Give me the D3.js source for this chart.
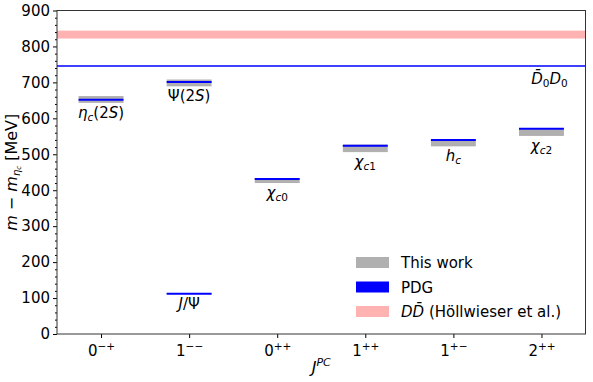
<!DOCTYPE html>
<html><head><meta charset="utf-8">
<script src="https://cdn.jsdelivr.net/npm/d3@7"></script>
<style>
body{margin:0;background:#fff;}
text{font-family:"DejaVu Sans",sans-serif;}
</style></head>
<body><svg id="c" width="593" height="382"></svg>
<script>
// ---- data ----
const categories = ["0", "1", "0", "1", "1", "2"];
const parities = ["\u2212+", "\u2212\u2212", "++", "++", "+\u2212", "++"];
const stateNames = ["eta2S", "psi2S", "jpsi", "chic0", "chic1", "hc", "chic2"];
const stateCategory = [0, 1, 1, 2, 3, 4, 5];
const thisWorkLow = [643, 689, 111, 420, 506, 522, 551];
const thisWorkHigh = [662, 708, 114, 434, 527, 541, 570];
const pdgValues = [652, 701, 112, 431, 524, 540, 571];
const thresholdD0D0 = 745.8;
const hollwieserBand = [822, 844];
const yTicks = [0, 100, 200, 300, 400, 500, 600, 700, 800, 900];

const svg = d3.select("#c");
const L = 57, R = 585.5, T = 10.5, B = 334;
const x = d3.scaleLinear().domain([-0.5, 5.5]).range([L, R]);
const y = d3.scaleLinear().domain([0, 900]).range([B, T]);
const halfW = 0.255;

// Höllwieser band
svg.append("rect").attr("x", L).attr("width", R - L)
  .attr("y", y(hollwieserBand[1])).attr("height", y(hollwieserBand[0]) - y(hollwieserBand[1]))
  .attr("fill", "#ffb2b2");
// threshold
svg.append("line").attr("x1", L).attr("x2", R).attr("y1", y(thresholdD0D0)).attr("y2", y(thresholdD0D0))
  .attr("stroke", "#0000ff").attr("stroke-width", 1.5);

// gray bars
const idx = d3.range(stateNames.length);
svg.selectAll("rect.tw").data(idx).enter().append("rect")
  .attr("x", i => x(stateCategory[i] - halfW))
  .attr("width", i => x(stateCategory[i] + halfW) - x(stateCategory[i] - halfW))
  .attr("y", i => y(thisWorkHigh[i]))
  .attr("height", i => y(thisWorkLow[i]) - y(thisWorkHigh[i]))
  .attr("fill", "#b0b0b0");
// PDG lines
svg.selectAll("line.pdg").data(idx).enter().append("line")
  .attr("x1", i => x(stateCategory[i] - halfW))
  .attr("x2", i => x(stateCategory[i] + halfW))
  .attr("y1", i => y(pdgValues[i])).attr("y2", i => y(pdgValues[i]))
  .attr("stroke", "#0000ff").attr("stroke-width", 2);

// state labels
function lab(i, build) {
  const t = svg.append("text")
    .attr("x", x(stateCategory[i]))
    .attr("y", y(thisWorkLow[i]) + 15)
    .attr("text-anchor", "middle").attr("font-size", 15).attr("fill", "#000");
  build(t);
}
lab(0, t => { t.append("tspan").attr("font-style", "italic").text("η");
  t.append("tspan").attr("font-style", "italic").attr("font-size", 10.5).attr("dy", 3).text("c");
  t.append("tspan").attr("dy", -3).text("(2");
  t.append("tspan").attr("font-style", "italic").text("S");
  t.append("tspan").text(")"); });
lab(1, t => { t.append("tspan").text("Ψ(2");
  t.append("tspan").attr("font-style", "italic").text("S");
  t.append("tspan").text(")"); });
lab(2, t => { t.append("tspan").attr("font-style", "italic").text("J");
  t.append("tspan").text("/Ψ"); });
function chi(i, sub) {
  lab(i, t => { t.append("tspan").attr("font-style", "italic").text("χ");
    t.append("tspan").attr("font-style", "italic").attr("font-size", 10.5).attr("dy", 3).text("c");
    t.append("tspan").attr("font-size", 10.5).text(sub); });
}
chi(3, "0"); chi(4, "1");
lab(5, t => { t.append("tspan").attr("font-style", "italic").text("h");
  t.append("tspan").attr("font-style", "italic").attr("font-size", 10.5).attr("dy", 3).text("c"); });
chi(6, "2");

// D0bar D0 label
{
  const t = svg.append("text").attr("x", x(5) + 8).attr("y", y(thresholdD0D0) + 18)
    .attr("text-anchor", "middle").attr("font-size", 15);
  t.append("tspan").attr("font-style", "italic").text("D\u0304");
  t.append("tspan").attr("font-size", 10.5).attr("dy", 3).text("0");
  t.append("tspan").attr("font-style", "italic").attr("dy", -3).text("D");
  t.append("tspan").attr("font-size", 10.5).attr("dy", 3).text("0");
}

// axes
const yAxis = d3.axisLeft(y).tickValues(yTicks).tickSize(4).tickPadding(3);
const gy = svg.append("g").attr("transform", `translate(${L},0)`).call(yAxis);
gy.selectAll("text").attr("font-size", 15).attr("font-family", "DejaVu Sans").attr("fill", "#000");
gy.select(".domain").remove();
const minor = d3.range(0, 901, 20).filter(v => v % 100 !== 0);
svg.append("g").attr("transform", `translate(${L},0)`)
  .call(d3.axisLeft(y).tickValues(minor).tickSize(2).tickFormat(""))
  .select(".domain").remove();

const xAxis = d3.axisBottom(x).tickValues(d3.range(6)).tickSize(4).tickPadding(3).tickFormat("");
const gx = svg.append("g").attr("transform", `translate(0,${B})`).call(xAxis);
gx.select(".domain").remove();
gx.selectAll(".tick").each(function(d) {
  const t = d3.select(this).append("text").attr("y", 22).attr("text-anchor", "middle")
    .attr("font-size", 15).attr("fill", "#000").attr("font-family", "DejaVu Sans");
  t.append("tspan").text(categories[d]);
  t.append("tspan").attr("font-size", 10.5).attr("dy", -6).text(parities[d]);
});

// frame
svg.append("rect").attr("x", L).attr("y", T).attr("width", R - L).attr("height", B - T)
  .attr("fill", "none").attr("stroke", "#333").attr("stroke-width", 1);

// axis titles
{
  const t = svg.append("text").attr("x", (L + R) / 2).attr("y", 373).attr("text-anchor", "middle").attr("font-size", 16);
  t.append("tspan").attr("font-style", "italic").text("J");
  t.append("tspan").attr("font-style", "italic").attr("font-size", 11).attr("dy", -7).text("PC");
}
{
  const t = svg.append("text").attr("transform", `translate(17,${(T + B) / 2}) rotate(-90)`)
    .attr("text-anchor", "middle").attr("font-size", 16);
  t.append("tspan").attr("font-style", "italic").text("m");
  t.append("tspan").text(" \u2212 ");
  t.append("tspan").attr("font-style", "italic").text("m");
  t.append("tspan").attr("font-style", "italic").attr("font-size", 10).attr("dy", 2.5).text("η");
  t.append("tspan").attr("font-style", "italic").attr("font-size", 7).attr("dy", 1.5).text("c");
  t.append("tspan").attr("dy", -4).text(" [MeV]");
}

// legend
const legItems = [
  {c: "#b0b0b0", label: "This work"},
  {c: "#0000ff", label: "PDG"},
  {c: "#ffb2b2", label: null}
];
legItems.forEach((d, i) => {
  const yy = 257 + i * 24.5;
  svg.append("rect").attr("x", 356).attr("y", yy).attr("width", 33).attr("height", 11).attr("fill", d.c);
  const t = svg.append("text").attr("x", 401).attr("y", yy + 11).attr("font-size", 15);
  if (d.label) t.text(d.label);
  else {
    t.append("tspan").attr("font-style", "italic").text("D");
    t.append("tspan").attr("font-style", "italic").text("D\u0304");
    t.append("tspan").text(" (Höllwieser et al.)");
  }
});
</script></body></html>
